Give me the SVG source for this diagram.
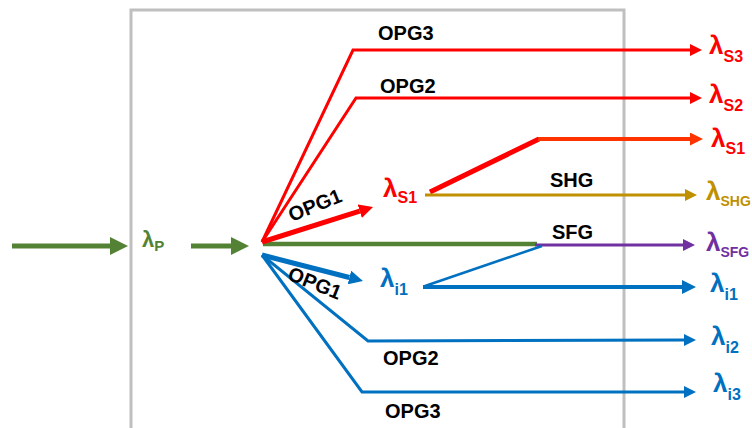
<svg xmlns="http://www.w3.org/2000/svg" width="752" height="428" viewBox="0 0 752 428">
<style>
text{font-family:"Liberation Sans",Arial,sans-serif;font-weight:bold}
.lbl{font-size:20px;fill:#000}
.lam{font-size:26px}
.sub{font-size:16px}
.sub2{font-size:14px}
.ln{fill:none;stroke-linejoin:miter}
</style>
<defs>
<marker id="hG" markerUnits="userSpaceOnUse" viewBox="0 0 18 18" markerWidth="18" markerHeight="18" refX="0" refY="9" orient="auto"><path d="M0,0 L18,9 L0,18 z" fill="#548235"/></marker>
<marker id="hR" markerUnits="userSpaceOnUse" viewBox="0 0 12 12" markerWidth="12" markerHeight="12" refX="0" refY="6" orient="auto"><path d="M0,0 L12,6 L0,12 z" fill="#FF0000"/></marker>
<marker id="hRb" markerUnits="userSpaceOnUse" viewBox="0 0 14 14" markerWidth="14" markerHeight="14" refX="0" refY="7" orient="auto"><path d="M0,0 L14,7 L0,14 z" fill="#FF0000"/></marker>
<marker id="hO" markerUnits="userSpaceOnUse" viewBox="0 0 13 13" markerWidth="13" markerHeight="13" refX="0" refY="6.5" orient="auto"><path d="M0,0 L13,6.5 L0,13 z" fill="#FF3300"/></marker>
<marker id="hY" markerUnits="userSpaceOnUse" viewBox="0 0 12 12" markerWidth="12" markerHeight="12" refX="0" refY="6" orient="auto"><path d="M0,0 L12,6 L0,12 z" fill="#BF9000"/></marker>
<marker id="hP" markerUnits="userSpaceOnUse" viewBox="0 0 12 12" markerWidth="12" markerHeight="12" refX="0" refY="6" orient="auto"><path d="M0,0 L12,6 L0,12 z" fill="#7030A0"/></marker>
<marker id="hB" markerUnits="userSpaceOnUse" viewBox="0 0 12 12" markerWidth="12" markerHeight="12" refX="0" refY="6" orient="auto"><path d="M0,0 L12,6 L0,12 z" fill="#0070C0"/></marker>
<marker id="hBb" markerUnits="userSpaceOnUse" viewBox="0 0 14 14" markerWidth="14" markerHeight="14" refX="0" refY="7" orient="auto"><path d="M0,0 L14,7 L0,14 z" fill="#0070C0"/></marker>
</defs>

<g id="box">
<rect x="131" y="10" width="493" height="440" fill="none" stroke="#BFBFBF" stroke-width="3"/>
</g>

<g id="connectors">
<line x1="12" y1="246" x2="110" y2="246" stroke="#548235" stroke-width="5" marker-end="url(#hG)"/>
<line x1="191" y1="246" x2="231" y2="246" stroke="#548235" stroke-width="5" marker-end="url(#hG)"/>
<line x1="263" y1="244" x2="537" y2="244" stroke="#548235" stroke-width="4.5"/>
<line x1="535" y1="245" x2="683" y2="245" stroke="#7030A0" stroke-width="3" marker-end="url(#hP)"/>
<polyline class="ln" points="262,242 353,50 690,50" stroke="#FF0000" stroke-width="3" marker-end="url(#hR)"/>
<polyline class="ln" points="262,242 356,98 690,98" stroke="#FF0000" stroke-width="3" marker-end="url(#hR)"/>
<line x1="262" y1="242" x2="359.7" y2="211.2" stroke="#FF0000" stroke-width="5" marker-end="url(#hRb)"/>
<line x1="430" y1="192" x2="539" y2="139" stroke="#FF0000" stroke-width="5"/>
<line x1="538" y1="139" x2="690" y2="139" stroke="#FF3300" stroke-width="4" marker-end="url(#hO)"/>
<line x1="425" y1="195" x2="685" y2="195" stroke="#BF9000" stroke-width="3" marker-end="url(#hY)"/>
<line x1="262" y1="255" x2="349.4" y2="277.5" stroke="#0070C0" stroke-width="5" marker-end="url(#hBb)"/>
<line x1="425" y1="286" x2="542" y2="246" stroke="#0070C0" stroke-width="2.5"/>
<line x1="423" y1="287" x2="682" y2="287" stroke="#0070C0" stroke-width="4" marker-end="url(#hBb)"/>
<polyline class="ln" points="262,255 368,341 684,340" stroke="#0070C0" stroke-width="3" marker-end="url(#hB)"/>
<polyline class="ln" points="262,255 362,392 684,392" stroke="#0070C0" stroke-width="3" marker-end="url(#hB)"/>
</g>

<g id="labels">
<text class="lbl" x="378" y="40">OPG3</text>
<text class="lbl" x="380" y="93">OPG2</text>
<text class="lbl" transform="translate(315,205) rotate(-22)" x="0" y="7" text-anchor="middle">OPG1</text>
<text class="lbl" transform="translate(315,283) rotate(22)" x="0" y="7" text-anchor="middle">OPG1</text>
<text class="lbl" x="383" y="365">OPG2</text>
<text class="lbl" x="385" y="418">OPG3</text>
<text class="lbl" x="550" y="187">SHG</text>
<text class="lbl" x="552" y="239">SFG</text>
</g>

<g id="node-lp"><text x="142" y="247" fill="#548235" font-size="22">λ<tspan dy="4" font-size="15">P</tspan></text></g>
<g id="node-ls1-mid"><text class="lam" x="383" y="197" fill="#FF0000">λ<tspan class="sub" dy="6">S1</tspan></text></g>
<g id="node-li1-mid"><text class="lam" x="380" y="287" fill="#0070C0">λ<tspan class="sub" dy="8">i1</tspan></text></g>
<g id="node-ls3"><text class="lam" x="709" y="54" fill="#FF0000">λ<tspan class="sub" dy="8">S3</tspan></text></g>
<g id="node-ls2"><text class="lam" x="709" y="103" fill="#FF0000">λ<tspan class="sub" dy="8">S2</tspan></text></g>
<g id="node-ls1"><text class="lam" x="711" y="147" fill="#FF0000">λ<tspan class="sub" dy="7">S1</tspan></text></g>
<g id="node-lshg"><text class="lam" x="706" y="200" fill="#BF9000">λ<tspan class="sub2" dy="6">SHG</tspan></text></g>
<g id="node-lsfg"><text class="lam" x="706" y="251" fill="#7030A0">λ<tspan class="sub2" dy="6">SFG</tspan></text></g>
<g id="node-li1"><text class="lam" x="710" y="292" fill="#0070C0">λ<tspan class="sub" dy="8">i1</tspan></text></g>
<g id="node-li2"><text class="lam" x="711" y="345" fill="#0070C0">λ<tspan class="sub" dy="8">i2</tspan></text></g>
<g id="node-li3"><text class="lam" x="713" y="392" fill="#0070C0">λ<tspan class="sub" dy="8">i3</tspan></text></g>
</svg>
